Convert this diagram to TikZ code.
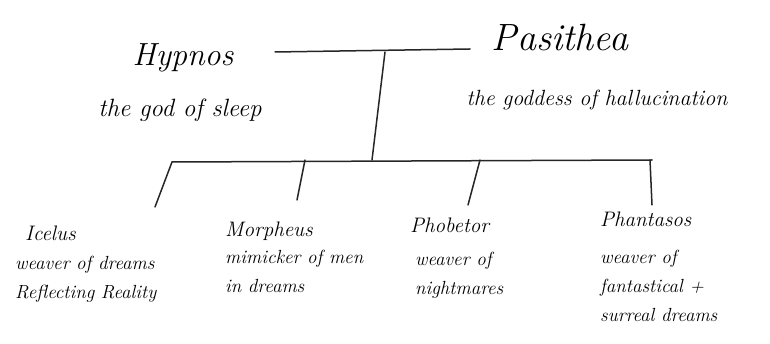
\documentclass[tikz,border=0pt]{standalone}
\begin{document}
\begin{tikzpicture}[x=1pt,y=-1pt,
  ink/.style={line width=1.5pt,line cap=round,black!85},
  big/.style={font=\fontsize{32}{36}\selectfont\itshape,inner sep=0pt},
  sub/.style={font=\fontsize{22}{26}\selectfont\itshape,inner sep=0pt},
  kid/.style={font=\fontsize{21}{24}\selectfont\itshape,inner sep=0pt,anchor=north west},
  desc/.style={font=\fontsize{19}{29}\selectfont\itshape,inner sep=0pt,anchor=north west,align=left}]
\useasboundingbox (0,0) rectangle (770,344);
% parents
\node[big] (hyp) at (183,58) {Hypnos};
\node[sub,font=\fontsize{25}{28}\selectfont\itshape] (hypd) at (180,110) {the god of sleep};
\node[big,font=\fontsize{38}{40}\selectfont\itshape] (pas) at (560,38) {Pasithea};
\node[sub] (pasd) at (597,100) {the goddess of hallucination};
% children
\node[kid] (ice) at (25,226) {Icelus};
\node[desc] (iced) at (15,256) {weaver of dreams\\Reflecting Reality};
\node[kid] (mor) at (225,222) {Morpheus};
\node[desc] (mord) at (225,250) {mimicker of men\\in dreams};
\node[kid] (pho) at (410,218) {Phobetor};
\node[desc] (phod) at (415,252) {weaver of\\nightmares};
\node[kid] (pha) at (600,212) {Phantasos};
\node[desc] (phad) at (600,250) {weaver of\\fantastical +\\surreal dreams};
% junctions
\coordinate (mL) at (275,52);
\coordinate (mR) at (470,49);
\coordinate (mt) at (385,52);
\coordinate (mb) at (372,160);
\coordinate (bL) at (172,162);
\coordinate (bR) at (652,160);
\coordinate (c1) at (172,162);
\coordinate (c2) at (305,160);
\coordinate (c3) at (480,160);
\coordinate (c4) at (650,160);
\coordinate (e1) at (155,207);
\coordinate (e2) at (297,200);
\coordinate (e3) at (468,205);
\coordinate (e4) at (652,205);
% connectors
\draw[ink] (mL) -- (mR);
\draw[ink] (mt) -- (mb);
\draw[ink] (bL) -- (bR);
\draw[ink] (c1) -- (e1);
\draw[ink] (c2) -- (e2);
\draw[ink] (c3) -- (e3);
\draw[ink] (c4) -- (e4);
\end{tikzpicture}
\end{document}
